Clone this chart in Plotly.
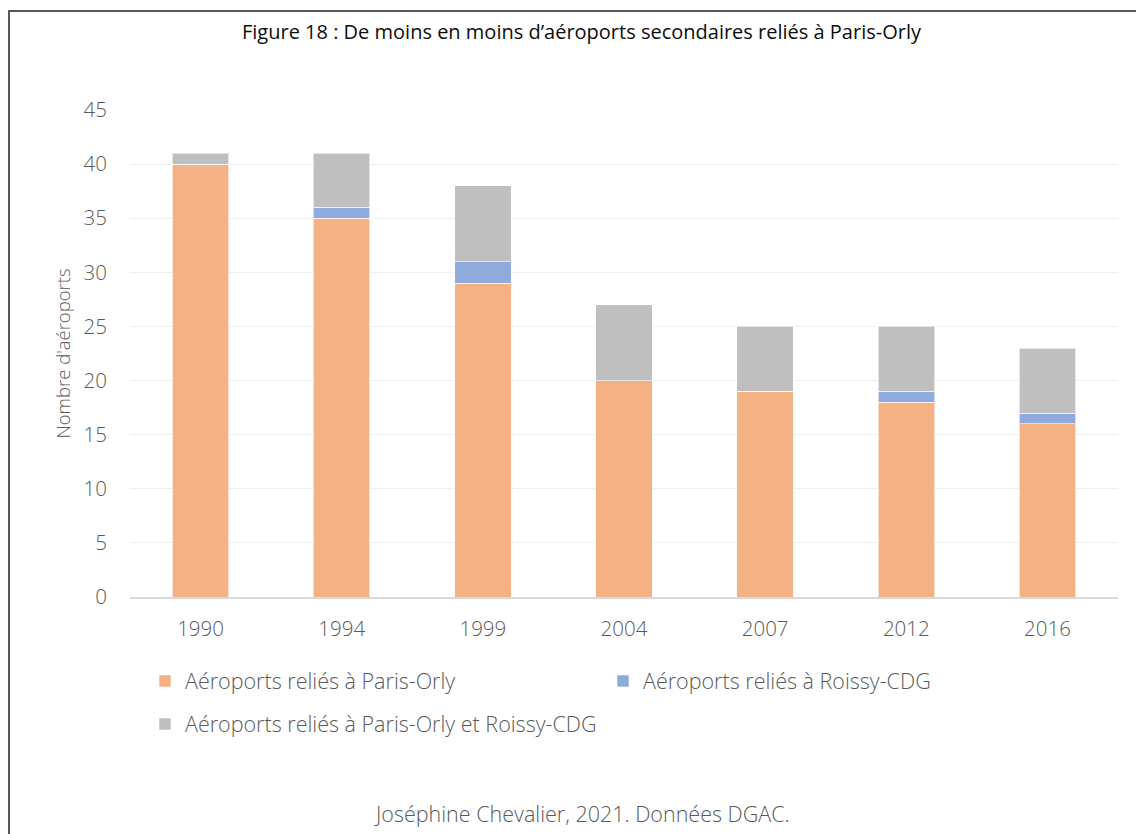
import plotly.graph_objects as go

years = ["1990", "1994", "1999", "2004", "2007", "2012", "2016"]
orly = [40, 35, 29, 20, 19, 18, 16]
cdg = [0, 1, 2, 0, 0, 1, 1]
both = [1, 5, 7, 7, 6, 6, 6]
names = ["Aéroports reliés à Paris-Orly", "Aéroports reliés à Roissy-CDG",
         "Aéroports reliés à Paris-Orly et Roissy-CDG"]
colors = ["#F4B183", "#8FAADC", "#BFBFBF"]
yticks = [0, 5, 10, 15, 20, 25, 30, 35, 40, 45]

FONT = "Open Sans"
LIGHT = 300
OFF = 8  # page body offset
W, H = 1144, 834
# reference pixel coordinates of plot area
RL, RR, RT, RB = 130, 1118, 110, 597
L, T = RL - OFF, RT - OFF
R = W - (RR - OFF)
B = H - (RB - OFF)
pw, ph = W - L - R, H - T - B

def px(x):
    return (x - OFF - L) / pw

def py(y):
    return (H - B - (y - OFF)) / ph

legend_ids = ["legend", "legend2", "legend3"]
fig = go.Figure()
for vals, name, col, lg in zip([orly, cdg, both], names, colors, legend_ids):
    fig.add_trace(go.Bar(x=years, y=vals, name=name, legend=lg,
                         marker=dict(color=col, line=dict(color="rgba(255,255,255,0.6)", width=1)),
                         width=0.4))

def leg(text_x, y):
    return dict(x=px(text_x - 40), y=py(y), xanchor="left", yanchor="middle",
                orientation="h", bgcolor="rgba(0,0,0,0)",
                font=dict(size=21.5, color="#595959", family=FONT, weight=LIGHT), itemwidth=30)

fig.update_layout(
    width=W, height=H, barmode="stack",
    margin=dict(l=L, r=R, t=T, b=B),
    paper_bgcolor="white", plot_bgcolor="white",
    font=dict(family=FONT, color="#595959"),
    showlegend=True,
    legend=leg(185, 681),
    legend2=leg(643, 681),
    legend3=leg(185, 724),
    xaxis=dict(showgrid=False, showline=True, linecolor="#D9D9D9", linewidth=1.5,
               tickfont=dict(size=20.5, color="#595959", family=FONT, weight=LIGHT), ticks="",
               ticklabelstandoff=13),
    yaxis=dict(range=[0, 45], tickvals=yticks, showgrid=True, gridcolor="#EFEFEF", gridwidth=1,
               zeroline=False, showline=False, ticks="",
               tickfont=dict(size=20.5, color="#595959", family=FONT, weight=LIGHT), ticklabelstandoff=22,
               title=dict(text="Nombre d'aéroports",
                          font=dict(size=18.5, color="#595959", family=FONT, weight=LIGHT), standoff=8)),
    annotations=[
        dict(text="Figure 18 : De moins en moins d’aéroports secondaires reliés à Paris-Orly",
             xref="paper", yref="paper", x=px(582), y=py(32), xanchor="center", yanchor="middle",
             showarrow=False, font=dict(size=20, color="#0D0D0D", family=FONT)),
        dict(text="Joséphine Chevalier, 2021. Données DGAC.",
             xref="paper", yref="paper", x=px(582), y=py(813), xanchor="center", yanchor="middle",
             showarrow=False, font=dict(size=21.5, color="#595959", family=FONT, weight=LIGHT)),
    ],
    shapes=[
        dict(type="rect", xref="paper", yref="paper", x0=px(9), x1=px(1250), y0=py(950), y1=py(11),
             line=dict(color="#595959", width=2), fillcolor="rgba(0,0,0,0)", layer="below"),
    ],
)

fig.write_html("out.html")
